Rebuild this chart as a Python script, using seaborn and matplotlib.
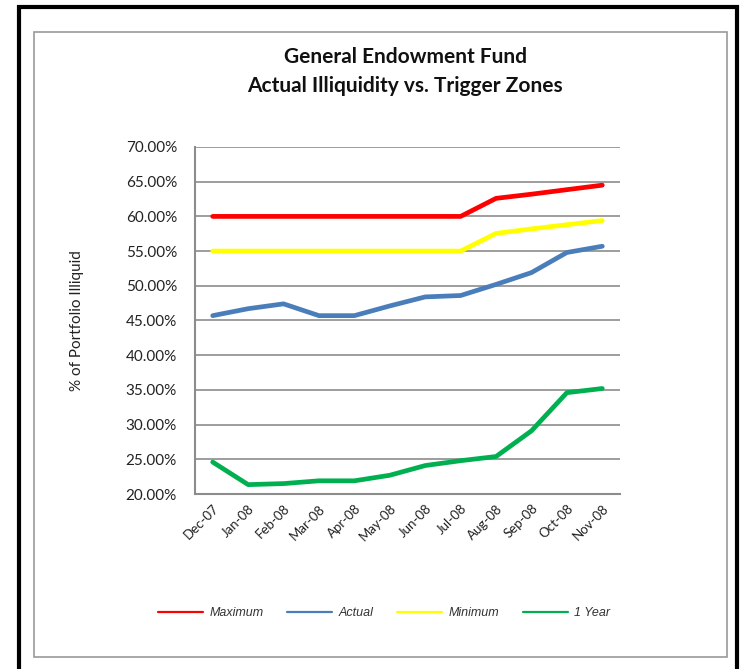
import matplotlib
matplotlib.use("Agg")
import matplotlib.pyplot as plt
from matplotlib.patches import Rectangle
from matplotlib.lines import Line2D
from matplotlib.ticker import FuncFormatter
import seaborn as sns
import pandas as pd

months = ["Dec-07", "Jan-08", "Feb-08", "Mar-08", "Apr-08", "May-08",
          "Jun-08", "Jul-08", "Aug-08", "Sep-08", "Oct-08", "Nov-08"]
maximum = [60.0, 60.0, 60.0, 60.0, 60.0, 60.0, 60.0, 60.0, 62.6, 63.2, 63.85, 64.5]
actual = [45.7, 46.7, 47.4, 45.7, 45.7, 47.1, 48.4, 48.6, 50.2, 51.9, 54.8, 55.7]
minimum = [55.0, 55.0, 55.0, 55.0, 55.0, 55.0, 55.0, 55.0, 57.55, 58.2, 58.8, 59.4]
one_year = [24.6, 21.35, 21.5, 21.9, 21.9, 22.7, 24.1, 24.8, 25.4, 29.1, 34.6, 35.2]
series_names = ["Maximum", "Actual", "Minimum", "1 Year"]
series_colors = ["#FF0000", "#4A7EBB", "#FFFF00", "#00B050"]
y_ticks = [20, 25, 30, 35, 40, 45, 50, 55, 60, 65, 70]

rows = []
for name, vals in zip(series_names, [maximum, actual, minimum, one_year]):
    for i, (m, v) in enumerate(zip(months, vals)):
        rows.append({"idx": i, "month": m, "value": v, "series": name})
df = pd.DataFrame(rows)

sns.set_theme(style="white")
title_font = ["Lato", "DejaVu Sans"]
tick_font = ["Lato", "DejaVu Sans"]
legend_font = ["Liberation Sans", "DejaVu Sans"]

W, H = 750, 669
fig = plt.figure(figsize=(W / 100, H / 100), dpi=100)
fig.patch.set_facecolor("white")

def fx(px):
    return px / W

def fy(py):
    return 1 - py / H

# Borders
fig.add_artist(Rectangle((fx(19), fy(690)), fx(737) - fx(19), fy(7) - fy(690),
                         transform=fig.transFigure, fill=False,
                         edgecolor="black", linewidth=3.0))
fig.add_artist(Rectangle((fx(34), fy(657)), fx(727) - fx(34), fy(32) - fy(657),
                         transform=fig.transFigure, fill=False,
                         edgecolor="#9a9a9a", linewidth=1.2))

ax = fig.add_axes([fx(195), fy(494), fx(620) - fx(195), fy(147) - fy(494)])
sns.lineplot(data=df, x="idx", y="value", hue="series", hue_order=series_names,
             palette=series_colors, linewidth=3.4, ax=ax, legend=False,
             sort=False)

ax.set_xlim(-0.5, len(months) - 0.5)
ax.set_ylim(20, 70)
ax.set_yticks(y_ticks)
ax.yaxis.set_major_formatter(FuncFormatter(lambda v, p: f"{v:.2f}%"))
ax.set_xticks(range(len(months)))
ax.set_xticklabels(months, rotation=45, ha="right", rotation_mode="anchor",
                   family=tick_font, fontsize=9.5, color="#222222")
for lab in ax.get_yticklabels():
    lab.set_family(tick_font)
    lab.set_fontsize(11)
    lab.set_color("#222222")
ax.tick_params(axis="y", length=0, pad=13)
ax.tick_params(axis="x", length=0, pad=6)
ax.grid(axis="y", color="#8c8c8c", linewidth=1.2)
ax.grid(axis="x", visible=False)
for side in ["top", "right"]:
    ax.spines[side].set_visible(False)
for side in ["left", "bottom"]:
    ax.spines[side].set_color("#8c8c8c")
    ax.spines[side].set_linewidth(1.5)
ax.set_xlabel("")
ax.set_ylabel("% of Portfolio Illiquid", family=tick_font, fontsize=11,
              color="#222222", labelpad=30)

fig.text(fx(405), fy(57), "General Endowment Fund", ha="center", va="center",
         family=title_font, fontweight="bold", fontsize=15, color="#111111")
fig.text(fx(405), fy(86), "Actual Illiquidity vs. Trigger Zones", ha="center",
         va="center", family=title_font, fontweight="bold", fontsize=15,
         color="#111111")

handles = [Line2D([0], [0], color=c, linewidth=1.6) for c in series_colors]
leg = fig.legend(handles, series_names, loc="center", ncol=4,
                 bbox_to_anchor=(fx(384), fy(613)), frameon=False,
                 handlelength=3.6, columnspacing=1.9, handletextpad=0.5,
                 prop={"family": legend_font, "style": "italic", "size": 9})
for t in leg.get_texts():
    t.set_color("#333333")

fig.savefig("out.png", dpi=100, facecolor="white")
